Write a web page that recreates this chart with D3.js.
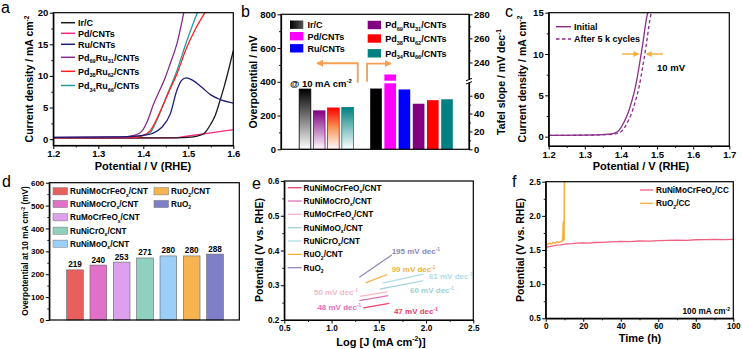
<!DOCTYPE html>
<html>
<head>
<meta charset="utf-8">
<script src="https://cdn.jsdelivr.net/npm/d3@7"></script>
<style>
  body { margin: 0; background: #fff; }
  svg { display: block; }
</style>
</head>
<body>
<svg id="fig" width="742" height="349"></svg>
<script>
// ---------- data ----------

// a: LSV curves, [potential V, current mA cm-2]
const aIrC   = [[1.2,0.2],[1.3,0.2],[1.45,0.2],[1.5,0.3],[1.52,0.5],[1.535,0.9],[1.55,2.4],[1.56,3.8],[1.57,6.0],[1.58,8.4],[1.59,11.1],[1.6,14]];
const aPdCNT = [[1.2,0.15],[1.3,0.15],[1.45,0.2],[1.48,0.3],[1.5,0.5],[1.55,1.0],[1.6,1.5]];
const aRuCNT = [[1.2,0.3],[1.35,0.35],[1.4,0.6],[1.42,0.9],[1.44,1.8],[1.46,4.0],[1.475,7.8],[1.485,9.3],[1.495,9.7],[1.51,9.3],[1.53,8.2],[1.55,7.0],[1.57,6.3],[1.6,5.7]];
const aPd69  = [[1.2,0.3],[1.35,0.35],[1.38,0.6],[1.396,1.2],[1.41,3.0],[1.422,5.4],[1.435,7.5],[1.448,9.6],[1.46,12.0],[1.474,14.9],[1.49,20]];
const aPd38  = [[1.2,0.2],[1.38,0.3],[1.4,0.6],[1.415,1.3],[1.43,3.2],[1.444,5.4],[1.46,8.0],[1.474,10.2],[1.496,14.4],[1.515,17.3],[1.537,20]];
const aPd34  = [[1.2,0.2],[1.38,0.3],[1.4,0.6],[1.415,1.0],[1.43,3.0],[1.444,5.4],[1.46,8.2],[1.474,10.7],[1.496,15.4],[1.52,20]];
const aNames = ["Ir/C", "Pd/CNTs", "Ru/CNTs", "Pd_{69}Ru_{31}/CNTs", "Pd_{38}Ru_{62}/CNTs", "Pd_{34}Ru_{66}/CNTs"];

// b: overpotential @10 mA cm-2 (mV) and Tafel slope (mV dec-1)
const bCatalysts   = ["Ir/C", "Pd/CNTs", "Ru/CNTs", "Pd69Ru31", "Pd38Ru62", "Pd34Ru66"];
const bOverNames   = ["Ir/C", "Pd69Ru31", "Pd38Ru62", "Pd34Ru66"];
const bOverpot     = [357, 228, 245, 248];
const bTafel       = [68, 230, 67, 51, 55, 56];
const bLegendNames = ["Ir/C", "Pd/CNTs", "Ru/CNTs", "Pd_{69}Ru_{31}/CNTs", "Pd_{38}Ru_{62}/CNTs", "Pd_{34}Ru_{66}/CNTs"];

// c: stability LSV
const cInitial = [[1.2,0.15],[1.3,0.18],[1.37,0.3],[1.39,0.6],[1.4,1.1],[1.41,1.9],[1.42,2.9],[1.43,4.3],[1.44,6.0],[1.45,8.4],[1.46,11.1],[1.47,14.1],[1.474,15]];
const cAfter   = [[1.2,0.15],[1.3,0.18],[1.38,0.3],[1.4,0.6],[1.41,1.1],[1.42,1.9],[1.43,2.9],[1.44,4.3],[1.45,6.0],[1.46,8.4],[1.47,11.1],[1.48,14.1],[1.484,15]];

// d: overpotential at 10 mA cm-2
const dNames  = ["RuNiMoCrFeO_{x}/CNT", "RuNiMoCrO_{x}/CNT", "RuMoCrFeO_{x}/CNT", "RuNiCrO_{x}/CNT", "RuNiMoO_{x}/CNT", "RuO_{2}/CNT", "RuO_{2}"];
const dValues = [219, 240, 253, 271, 280, 280, 288];

// e: Tafel fits [logJ start, E start, logJ end, E end], slope labels
const eNames  = ["RuNiMoCrFeO_{x}/CNT", "RuNiMoCrO_{x}/CNT", "RuMoCrFeO_{x}/CNT", "RuNiMoO_{x}/CNT", "RuNiCrO_{x}/CNT", "RuO_{2}/CNT", "RuO_{2}"];
const eFits   = [
  [1.337, 0.235, 1.611, 0.248],
  [1.294, 0.256, 1.601, 0.270],
  [1.300, 0.268, 1.590, 0.281],
  [1.510, 0.289, 1.970, 0.313],
  [1.540, 0.306, 1.970, 0.332],
  [1.360, 0.307, 1.590, 0.331],
  [1.294, 0.323, 1.637, 0.387]
];
const eSlopes   = [47, 48, 50, 60, 61, 99, 195];
const eLabelAt  = [[1.66, 0.217], [0.85, 0.229], [0.814, 0.272], [1.83, 0.278], [2.03, 0.318], [1.636, 0.338], [1.636, 0.39]];

// f: chronopotentiometry at 100 mA cm-2
const fTimeA = [0, 1, 2, 4, 6, 8, 10, 12, 14, 17, 20, 23, 26, 30, 35, 40, 45, 50, 55, 60, 65, 70, 75, 80, 85, 90, 95, 100];
const fPotA  = [1.53, 1.545, 1.55, 1.56, 1.57, 1.575, 1.585, 1.59, 1.592, 1.6, 1.603, 1.6, 1.61, 1.612, 1.618, 1.625, 1.622, 1.632, 1.63, 1.638, 1.64, 1.645, 1.642, 1.65, 1.652, 1.655, 1.653, 1.657];
const fTimeB = [0, 0.5, 1, 2, 3, 4, 5, 6, 7, 8, 8.8, 9.0, 9.2, 9.4, 9.6, 9.8, 10];
const fPotB  = [1.57, 1.59, 1.58, 1.6, 1.59, 1.61, 1.6, 1.62, 1.61, 1.62, 1.63, 1.64, 1.75, 1.92, 1.64, 1.66, 2.6];
const fNames = ["RuNiMoCrFeO_{x}/CC", "RuO_{2}/CC"];

// ---------- styles ----------
const FONT = '"Liberation Sans", Arial, Helvetica, sans-serif';
const aColors = ["#1a1a1a", "#ff2a7f", "#1c1c78", "#8a2a8a", "#ff2020", "#2a9a9a"];
const bColors = ["#000000", "#ff00ff", "#0000ff", "#800080", "#ff0000", "#008080"];
const dColors = ["#e8605e", "#e070c8", "#dca0ec", "#8fd0bf", "#9ccff8", "#f5b450", "#7f7fc8"];
const eColors = ["#e8406a", "#e070b8", "#f5b8c8", "#a0d0d4", "#b0dce8", "#f5b040", "#8a88b8"];
const fColors = ["#f06080", "#f5b040"];
const ORANGE = "#f5a050";

const svg = d3.select("#fig");
svg.append("rect").attr("width", 742).attr("height", 349).attr("fill", "#fff");
const defs = svg.append("defs");

// text with _{sub} and ^{sup}
function rich(t, str, fs) {
  const re = /([_^])\{([^}]*)\}/g;
  const parts = [];
  let last = 0, m;
  while ((m = re.exec(str))) {
    if (m.index > last) parts.push({ t: str.slice(last, m.index), s: 0 });
    parts.push({ t: m[2], s: m[1] === "_" ? 1 : -1 });
    last = re.lastIndex;
  }
  if (last < str.length) parts.push({ t: str.slice(last), s: 0 });
  let cur = 0;
  parts.forEach(p => {
    const target = p.s === 1 ? fs * 0.3 : p.s === -1 ? -fs * 0.42 : 0;
    t.append("tspan").attr("dy", target - cur).attr("font-size", p.s ? fs * 0.62 : fs).text(p.t);
    cur = target;
  });
}

function label(g, x, y, str, fs, o = {}) {
  const t = g.append("text").attr("x", x).attr("y", y)
    .attr("font-family", FONT).attr("font-size", fs)
    .attr("font-weight", o.weight || "bold")
    .attr("fill", o.fill || "#000")
    .attr("text-anchor", o.anchor || "start");
  if (o.rotate) t.attr("transform", `rotate(${o.rotate},${x},${y})`);
  rich(t, str, fs);
  return t;
}

function axis(g, orient, scale, at, major, minor, fmt, fs) {
  const mk = orient === "bottom" ? d3.axisBottom : orient === "left" ? d3.axisLeft : d3.axisRight;
  const tr = orient === "bottom" ? `translate(0,${at})` : `translate(${at},0)`;
  if (minor) {
    g.append("g").attr("transform", tr)
      .call(mk(scale).tickValues(minor).tickSize(2).tickSizeOuter(0).tickFormat(""))
      .call(s => s.select(".domain").remove())
      .selectAll("line").attr("stroke", "#000").attr("stroke-width", 0.9);
  }
  const ga = g.append("g").attr("transform", tr)
    .call(mk(scale).tickValues(major).tickSize(3.5).tickSizeOuter(0).tickPadding(1.5)
      .tickFormat(fmt ? fmt : ""));
  ga.attr("font-family", FONT).attr("font-size", fs).attr("font-weight", "bold");
  ga.select(".domain").attr("stroke", "#000").attr("stroke-width", 1.2);
  ga.selectAll(".tick line").attr("stroke", "#000").attr("stroke-width", 1);
  ga.selectAll(".tick text").attr("fill", "#000");
  return ga;
}

function frame(g, x0, x1, y0, y1) {
  g.append("rect").attr("x", x0).attr("y", y0).attr("width", x1 - x0).attr("height", y1 - y0)
    .attr("fill", "none").attr("stroke", "#000").attr("stroke-width", 1.2);
}

function clip(id, x0, x1, y0, y1) {
  defs.append("clipPath").attr("id", id).append("rect")
    .attr("x", x0).attr("y", y0).attr("width", x1 - x0).attr("height", y1 - y0);
  return `url(#${id})`;
}

// arrow heads
defs.append("marker").attr("id", "arrO").attr("viewBox", "0 0 10 10").attr("refX", 8).attr("refY", 5)
  .attr("markerWidth", 4).attr("markerHeight", 4).attr("orient", "auto-start-reverse")
  .append("path").attr("d", "M0,0L10,5L0,10z").attr("fill", ORANGE);
defs.append("marker").attr("id", "arrC").attr("viewBox", "0 0 10 10").attr("refX", 8).attr("refY", 5)
  .attr("markerWidth", 4).attr("markerHeight", 4).attr("orient", "auto")
  .append("path").attr("d", "M0,0L10,5L0,10z").attr("fill", "#f5b040");

const f1 = d3.format(".1f");
const f0 = d3.format("d");

// ---------- panel a ----------
{
  const g = svg.append("g");
  const x = d3.scaleLinear().domain([1.2, 1.6]).range([53.3, 233.3]);
  const y = d3.scaleLinear().domain([-1.0, 20]).range([145.5, 12.7]);
  const line = d3.line().x(d => x(d[0])).y(d => y(d[1])).curve(d3.curveMonotoneX);
  const cp = clip("clipA", 53.3, 233.3, 12.7, 145.5);
  const series = [aIrC, aPdCNT, aRuCNT, aPd69, aPd38, aPd34];
  const order = [1, 0, 5, 4, 3, 2];
  order.forEach(i => {
    g.append("path").datum(series[i]).attr("d", line).attr("fill", "none")
      .attr("stroke", aColors[i]).attr("stroke-width", 1.3).attr("clip-path", cp);
  });
  axis(g, "bottom", x, 145.5, [1.2, 1.3, 1.4, 1.5, 1.6], [1.25, 1.35, 1.45, 1.55], f1, 9.5);
  axis(g, "left", y, 53.3, [0, 5, 10, 15, 20], [2.5, 7.5, 12.5, 17.5], f0, 9.5);
  frame(g, 53.3, 233.3, 12.7, 145.5);
  const legY = [22.7, 33.3, 44.3, 57.3, 71.3, 85.5];
  aNames.forEach((n, i) => {
    g.append("line").attr("x1", 61).attr("x2", 75).attr("y1", legY[i]).attr("y2", legY[i])
      .attr("stroke", aColors[i]).attr("stroke-width", 1.5);
    label(g, 78, legY[i] + 3.3, n, 9);
  });
  label(g, 143, 170, "Potential / V (RHE)", 11, { anchor: "middle" });
  label(g, 33, 79, "Current density / mA cm^{-2}", 10.5, { anchor: "middle", rotate: -90 });
  label(g, 1, 13, "a", 16, { weight: "normal" });
}

// ---------- panel b ----------
{
  const g = svg.append("g");
  const X0 = 281, X1 = 469, Y0 = 14.3, Y1 = 149.3;
  const slots = bOverNames.map(n => "op:" + n).concat(["gap"], bCatalysts.map(n => "tf:" + n));
  const x = d3.scaleBand().domain(slots).range([297.9, 454.1]).paddingInner(0.18).paddingOuter(0.09);
  const yL = d3.scaleLinear().domain([0, 800]).range([Y1, Y0]);
  const yR = d3.scaleLinear().domain([0, 75, 224, 280]).range([Y1, 82.3, 81.7, Y0]);

  // gradients for overpotential bars
  bOverNames.forEach((n, i) => {
    const c = bColors[bCatalysts.indexOf(n)];
    const gr = defs.append("linearGradient").attr("id", "gradB" + i)
      .attr("x1", 0).attr("x2", 0).attr("y1", 0).attr("y2", 1);
    gr.append("stop").attr("offset", "0%").attr("stop-color", c);
    if (n === "Pd38Ru62") gr.append("stop").attr("offset", "45%").attr("stop-color", "#f59050");
    gr.append("stop").attr("offset", "100%").attr("stop-color", "#fff");
  });
  bOverNames.forEach((n, i) => {
    const c = bColors[bCatalysts.indexOf(n)];
    g.append("rect").attr("x", x("op:" + n)).attr("width", x.bandwidth())
      .attr("y", yL(bOverpot[i])).attr("height", yL(0) - yL(bOverpot[i]))
      .attr("fill", `url(#gradB${i})`).attr("stroke", c).attr("stroke-width", 0.8);
  });
  bCatalysts.forEach((n, i) => {
    g.append("rect").attr("x", x("tf:" + n)).attr("width", x.bandwidth())
      .attr("y", yR(bTafel[i])).attr("height", yR(0) - yR(bTafel[i]))
      .attr("fill", bColors[i]);
  });
  // white gap where bar crosses the axis break
  g.append("rect").attr("x", x("tf:Pd/CNTs") - 1).attr("width", x.bandwidth() + 2)
    .attr("y", yR(224) - 1).attr("height", 2.6).attr("fill", "#fff");

  axis(g, "left", yL, X0, [0, 200, 400, 600, 800], [100, 300, 500, 700], f0, 9.5);
  axis(g, "right", yR, X1, [0, 20, 40, 60, 240, 260, 280], [10, 30, 50, 250, 270], f0, 9.5);
  frame(g, X0, X1, Y0, Y1);
  // axis break marks
  g.append("rect").attr("x", X1 - 3).attr("y", 79.6).attr("width", 8).attr("height", 3.2).attr("fill", "#fff");
  [79.6, 82.8].forEach(yy => g.append("line").attr("x1", X1 - 3).attr("x2", X1 + 3)
    .attr("y1", yy + 1.2).attr("y2", yy - 1.2).attr("stroke", "#000").attr("stroke-width", 1));

  // arrows
  const ax1 = x("gap") + x.bandwidth() * 0.15, ax2 = x("gap") + x.bandwidth() * 0.95;
  g.append("path").attr("d", `M${ax1},${yL(395)}V${yL(510)}H${x("op:Pd69Ru31") + 4}`)
    .attr("fill", "none").attr("stroke", ORANGE).attr("stroke-width", 1.8).attr("marker-end", "url(#arrO)");
  g.append("path").attr("d", `M${ax2},${yL(400)}V${yL(508)}H${x("tf:Pd/CNTs") + 6}`)
    .attr("fill", "none").attr("stroke", ORANGE).attr("stroke-width", 1.8).attr("marker-end", "url(#arrO)");
  label(g, 290, 87, "@ 10 mA cm^{-2}", 9.5);

  // legend
  const legX = [290, 290, 290, 367.7, 367.7, 367.7];
  const legY = [24.7, 36.2, 48.3, 25, 38.5, 53.3];
  bLegendNames.forEach((n, i) => {
    const fill = i === 0 ? "url(#gradLegIr)" : bColors[i];
    g.append("rect").attr("x", legX[i]).attr("y", legY[i] - 4.2).attr("width", 13.3).attr("height", 8.4)
      .attr("fill", fill);
    label(g, legX[i] + 17.5, legY[i] + 3.3, n, 9);
  });
  const lg = defs.append("linearGradient").attr("id", "gradLegIr");
  lg.append("stop").attr("offset", "0%").attr("stop-color", "#000");
  lg.append("stop").attr("offset", "100%").attr("stop-color", "#555");

  label(g, 257, 82, "Overpotential / mV", 10.5, { anchor: "middle", rotate: -90 });
  label(g, 505, 82, "Tafel slope / mV dec^{-1}", 10.5, { anchor: "middle", rotate: -90 });
  label(g, 241, 17, "b", 16, { weight: "normal" });
}

// ---------- panel c ----------
{
  const g = svg.append("g");
  const x = d3.scaleLinear().domain([1.2, 1.7]).range([548.7, 729.3]);
  const y = d3.scaleLinear().domain([-1.13, 15]).range([146, 12.7]);
  const line = d3.line().x(d => x(d[0])).y(d => y(d[1])).curve(d3.curveMonotoneX);
  const cp = clip("clipC", 548.7, 729.3, 12.7, 146);
  const purple = "#8a2a8a";
  g.append("path").datum(cAfter).attr("d", line).attr("fill", "none").attr("stroke", purple)
    .attr("stroke-width", 1.3).attr("stroke-dasharray", "3.5,2.5").attr("clip-path", cp);
  g.append("path").datum(cInitial).attr("d", line).attr("fill", "none").attr("stroke", purple)
    .attr("stroke-width", 1.3).attr("clip-path", cp);
  axis(g, "bottom", x, 146, [1.2, 1.3, 1.4, 1.5, 1.6, 1.7], [1.25, 1.35, 1.45, 1.55, 1.65], f1, 9.5);
  axis(g, "left", y, 548.7, [0, 5, 10, 15], [2.5, 7.5, 12.5], f0, 9.5);
  frame(g, 548.7, 729.3, 12.7, 146);
  // 10 mV arrows
  g.append("line").attr("x1", x(1.403)).attr("x2", x(1.448)).attr("y1", y(10)).attr("y2", y(10))
    .attr("stroke", "#f5b040").attr("stroke-width", 1.5).attr("marker-end", "url(#arrC)");
  g.append("line").attr("x1", x(1.516)).attr("x2", x(1.472)).attr("y1", y(10)).attr("y2", y(10))
    .attr("stroke", "#f5b040").attr("stroke-width", 1.5).attr("marker-end", "url(#arrC)");
  label(g, 657, 71, "10 mV", 9.5);
  g.append("line").attr("x1", 556).attr("x2", 571).attr("y1", 26.7).attr("y2", 26.7)
    .attr("stroke", purple).attr("stroke-width", 1.4);
  g.append("line").attr("x1", 556).attr("x2", 571).attr("y1", 39).attr("y2", 39)
    .attr("stroke", purple).attr("stroke-width", 1.4).attr("stroke-dasharray", "3.5,2.5");
  label(g, 574, 30, "Initial", 9);
  label(g, 574, 42.3, "After 5 k cycles", 9);
  label(g, 641, 170, "Potential / V (RHE)", 11, { anchor: "middle" });
  label(g, 526, 79, "Current density / mA cm^{-2}", 10.5, { anchor: "middle", rotate: -90 });
  label(g, 505, 17, "c", 16, { weight: "normal" });
}

// ---------- panel d ----------
{
  const g = svg.append("g");
  const x = d3.scaleBand().domain(dNames).range([63.3, 226.7]).paddingInner(0.286).paddingOuter(0.143);
  const y = d3.scaleLinear().domain([0, 600]).range([320, 182.7]);
  dNames.forEach((n, i) => {
    g.append("rect").attr("x", x(n)).attr("width", x.bandwidth())
      .attr("y", y(dValues[i])).attr("height", y(0) - y(dValues[i]))
      .attr("fill", dColors[i]).attr("stroke", "#666").attr("stroke-width", 0.6);
    g.append("text").attr("x", x(n) + x.bandwidth() / 2).attr("y", y(dValues[i]) - 2.5)
      .attr("text-anchor", "middle").attr("font-family", FONT).attr("font-weight", "bold")
      .attr("font-size", 8.2).text(dValues[i]);
  });
  axis(g, "left", y, 49.3, d3.range(0, 601, 100), d3.range(50, 600, 100), f0, 8);
  frame(g, 49.3, 239.3, 182.7, 320);
  const legPos = [[53, 191.3], [53, 204], [53, 217.3], [53, 230.7], [53, 243.7], [154, 191.3], [154, 204]];
  dNames.forEach((n, i) => {
    g.append("rect").attr("x", legPos[i][0]).attr("y", legPos[i][1] - 3.6).attr("width", 14.5).attr("height", 7.2)
      .attr("fill", dColors[i]).attr("stroke", "#777").attr("stroke-width", 0.5);
    label(g, legPos[i][0] + 17, legPos[i][1] + 3, n, 8.2);
  });
  label(g, 28, 251, "Overpotential at 10 mA cm^{-2} (mV)", 8.3, { anchor: "middle", rotate: -90 });
  label(g, 2, 187, "d", 16, { weight: "normal" });
}

// ---------- panel e ----------
{
  const g = svg.append("g");
  const x = d3.scaleLinear().domain([0.5, 2.5]).range([284.3, 473.3]);
  const y = d3.scaleLinear().domain([0.2, 0.6]).range([320, 181]);
  eFits.forEach((f, i) => {
    g.append("line").attr("x1", x(f[0])).attr("y1", y(f[1])).attr("x2", x(f[2])).attr("y2", y(f[3]))
      .attr("stroke", eColors[i]).attr("stroke-width", 1.2);
    label(g, x(eLabelAt[i][0]), y(eLabelAt[i][1]), `${eSlopes[i]} mV dec^{-1}`, 8, { fill: eColors[i] });
  });
  axis(g, "bottom", x, 320, [0.5, 1.0, 1.5, 2.0, 2.5], [0.75, 1.25, 1.75, 2.25], f1, 8.2);
  axis(g, "left", y, 284.3, [0.2, 0.3, 0.4, 0.5, 0.6], [0.25, 0.35, 0.45, 0.55], f1, 8.2);
  frame(g, 284.3, 473.3, 181, 320);
  eNames.forEach((n, i) => {
    const yy = 187.7 + i * 13.33;
    g.append("line").attr("x1", 287.7).attr("x2", 301.7).attr("y1", yy).attr("y2", yy)
      .attr("stroke", eColors[i]).attr("stroke-width", 1.3);
    label(g, 303.5, yy + 3, n, 8.2);
  });
  label(g, 381, 346, "Log [J (mA cm^{-2})]", 11, { anchor: "middle" });
  label(g, 263, 250, "Potential (V vs. RHE)", 10.5, { anchor: "middle", rotate: -90 });
  label(g, 252, 189, "e", 16, { weight: "normal" });
}

// ---------- panel f ----------
{
  const g = svg.append("g");
  const x = d3.scaleLinear().domain([0, 100]).range([545.7, 733.3]);
  const y = d3.scaleLinear().domain([0.5, 2.5]).range([318.3, 181.7]);
  const cp = clip("clipF", 545.7, 733.3, 181.7, 318.3);
  const line = d3.line().x(d => x(d[0])).y(d => y(d[1]));
  g.append("path").datum(fTimeB.map((t, i) => [t, fPotB[i]])).attr("d", line).attr("fill", "none")
    .attr("stroke", fColors[1]).attr("stroke-width", 1.6).attr("clip-path", cp);
  g.append("path").datum(fTimeA.map((t, i) => [t, fPotA[i]])).attr("d", line).attr("fill", "none")
    .attr("stroke", fColors[0]).attr("stroke-width", 1.3).attr("clip-path", cp);
  axis(g, "bottom", x, 318.3, d3.range(0, 101, 20), d3.range(10, 100, 20), f0, 8.2);
  axis(g, "left", y, 545.7, [0.5, 1.0, 1.5, 2.0, 2.5], [0.75, 1.25, 1.75, 2.25], f1, 8.2);
  frame(g, 545.7, 733.3, 181.7, 318.3);
  fNames.forEach((n, i) => {
    const yy = 190 + i * 13.3;
    g.append("line").attr("x1", 640).attr("x2", 653).attr("y1", yy).attr("y2", yy)
      .attr("stroke", fColors[i]).attr("stroke-width", 1.3);
    label(g, 656, yy + 3, n, 8.2);
  });
  label(g, 730, 314, "100 mA cm^{-2}", 8.2, { anchor: "end" });
  label(g, 640, 342, "Time (h)", 11, { anchor: "middle" });
  label(g, 524, 250, "Potential (V vs. RHE)", 10.5, { anchor: "middle", rotate: -90 });
  label(g, 512, 187, "f", 16, { weight: "normal" });
}
</script>
</body>
</html>
